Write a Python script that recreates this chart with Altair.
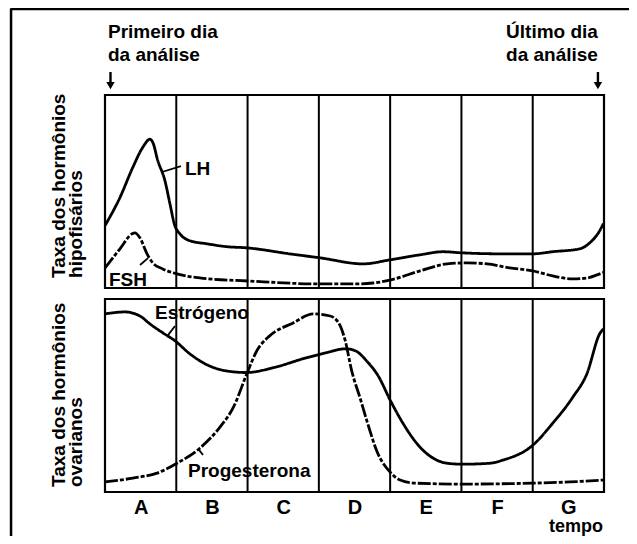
import json
import altair as alt
import pandas as pd

# ---------------- data ----------------
# x: position along the analysis period, in section units (A = 0..1, ..., G = 6..7)
# level: relative hormone level inside its panel (0 = panel bottom, 100 = panel top)
sections = ["A", "B", "C", "D", "E", "F", "G"]

lh_x = [0, 0.21, 0.39, 0.53, 0.63, 0.67, 0.74, 0.84, 0.91, 0.98, 1.05, 1.19, 1.43, 1.71, 1.99,
        2.59, 3.02, 3.62, 4.00, 4.42, 4.74, 5.01, 5.58, 6.00, 6.28, 6.66, 6.80, 6.94, 6.99]
lh_y = [32.3, 46.9, 62.5, 72.9, 77.1, 75.5, 66.1, 55.7, 43.8, 32.3, 28.1, 24.5, 22.9, 21.4, 20.8,
        17.7, 15.6, 12.5, 14.6, 17.2, 18.8, 18.2, 17.7, 17.7, 18.8, 20.3, 23.4, 29.7, 33.3]

fsh_x = [0, 0.21, 0.38, 0.42, 0.49, 0.59, 0.67, 0.81, 1.01, 1.33, 2.03, 3.02, 3.48, 3.76, 4.01,
         4.42, 4.80, 5.08, 5.36, 5.68, 6.00, 6.28, 6.56, 6.76, 6.94, 6.99]
fsh_y = [10.4, 20.3, 28.1, 28.6, 26.0, 17.7, 13.0, 9.9, 7.3, 5.2, 3.6, 2.1, 2.1, 2.6, 4.2,
         8.9, 12.5, 13.0, 12.5, 10.4, 8.9, 6.25, 4.7, 5.2, 7.3, 8.0]

est_x = [0, 0.28, 0.49, 0.63, 0.81, 0.98, 1.19, 1.40, 1.68, 1.99, 2.36, 2.83, 3.11, 3.37, 3.51,
         3.68, 3.83, 4.01, 4.18, 4.42, 4.80, 5.01, 5.40, 5.58, 6.00, 6.28, 6.56, 6.76, 6.94, 6.99]
est_y = [92.3, 93.3, 91.2, 87.1, 82.5, 78.4, 71.6, 66.5, 62.9, 61.9, 64.4, 69.6, 72.2, 74.2, 73.2,
         67.5, 60.3, 46.9, 35.6, 23.2, 14.9, 14.4, 14.9, 16.5, 24.2, 35.6, 49.0, 61.3, 82.0, 84.5]

prog_x = [0, 0.39, 0.73, 1.01, 1.33, 1.61, 1.80, 1.99, 2.13, 2.31, 2.64, 2.92, 3.16, 3.30, 3.37,
          3.46, 3.58, 3.68, 3.82, 4.00, 4.14, 4.35, 5.01, 6.00, 6.52, 6.99]
prog_y = [5.2, 7.2, 9.8, 14.9, 22.7, 33.5, 43.8, 61.3, 73.2, 80.9, 87.6, 92.3, 91.2, 86.1, 78.4,
          62.9, 48.5, 36.1, 20.6, 10.3, 6.2, 4.6, 4.1, 4.6, 5.2, 6.2]

hormones = ["LH", "FSH", "Estrógeno", "Progesterona"]

# ---------------- layout ----------------
W, H = 499, 397
GAP = 5.7                 # gap between the two panels (in level units)
TOP = 100 + GAP           # offset of the upper (pituitary) panel
YMAX = TOP + 100
NSEC = len(sections)
FONT = "Liberation Sans"

curves = pd.concat([
    pd.DataFrame({"hormone": "LH", "x": lh_x, "level": lh_y, "offset": TOP}),
    pd.DataFrame({"hormone": "FSH", "x": fsh_x, "level": fsh_y, "offset": TOP}),
    pd.DataFrame({"hormone": "Estrógeno", "x": est_x, "level": est_y, "offset": 0}),
    pd.DataFrame({"hormone": "Progesterona", "x": prog_x, "level": prog_y, "offset": 0}),
], ignore_index=True)

xs = alt.Scale(domain=[0, NSEC], nice=False, zero=False)
ys = alt.Scale(domain=[0, YMAX], nice=False, zero=False)

label_expr = json.dumps(sections) + "[floor(datum.value)]"
x_axis = alt.Axis(values=[i + 0.5 for i in range(NSEC)], labelExpr=label_expr,
                  domain=False, ticks=False, grid=False, title=None,
                  labelFont=FONT, labelFontSize=20, labelFontWeight="bold",
                  labelColor="black", labelPadding=5, labelAngle=0)


def X(field):
    return alt.X(field, type="quantitative", scale=xs, axis=x_axis)


def Y(field):
    return alt.Y(field, type="quantitative", scale=ys, axis=None)


# outer frame of the figure (decoration): left and top edges, extending past the canvas
frame = pd.DataFrame({"x": [-1.318, -1.33], "x2": [-1.318, 7.6],
                      "y": [250.3, 250.3], "y2": [-30, 250.3]})
frame_rules = alt.Chart(frame).mark_rule(color="black", strokeWidth=2.5).encode(
    x=X("x"), x2="x2", y=Y("y"), y2="y2")

panels = pd.DataFrame({"left": [0, 0], "right": [NSEC, NSEC],
                       "lo": [0, TOP], "hi": [100, TOP + 100]})
panel_box = alt.Chart(panels).mark_rect(
    fill="transparent", stroke="black", strokeWidth=2.2
).encode(x=X("left"), x2="right", y=Y("lo"), y2="hi")

dividers = pd.DataFrame([{"x": b, "lo": lo, "hi": hi}
                         for b in range(1, NSEC)
                         for lo, hi in [(0, 100), (TOP, TOP + 100)]])
div_rules = alt.Chart(dividers).mark_rule(color="black", strokeWidth=2).encode(
    x=X("x"), y=Y("lo"), y2="hi")

lines = alt.Chart(curves).transform_calculate(
    yc="datum.level + datum.offset"
).mark_line(interpolate="monotone", color="black", strokeWidth=2.8).encode(
    x=X("x"), y=Y("yc"),
    strokeDash=alt.StrokeDash("hormone:N", legend=None,
                              scale=alt.Scale(domain=hormones,
                                              range=[[1, 0], [13, 2, 4, 2], [1, 0], [13, 2, 4, 2]])),
)

# annotation texts
left_labels = pd.DataFrame({
    "text": ["Primeiro dia", "da análise", "LH", "FSH", "Estrógeno", "Progesterona"],
    "x": [0.042, 0.042, 1.122, 0.056, 0.701, 1.164],
    "y": [235.2, 223.3, 164.2, 106.7, 89.6, 7.8],
})
right_labels = pd.DataFrame({
    "text": ["Último dia", "da análise"],
    "x": [6.915, 6.915],
    "y": [235.2, 223.3],
})
tempo_label = pd.DataFrame({"text": ["tempo"], "x": [6.986], "y": [-20.8]})
axis_titles = pd.DataFrame({
    "text": ["Taxa dos hormônios", "hipofisários", "Taxa dos hormônios", "ovarianos"],
    "x": [-0.561, -0.323, -0.561, -0.323],
    "y": [110.9, 110.9, 2.6, 2.6],
})

txt_left = alt.Chart(left_labels).mark_text(
    align="left", baseline="alphabetic", font=FONT, fontSize=19, fontWeight="bold", color="black"
).encode(x=X("x"), y=Y("y"), text="text:N")
txt_right = alt.Chart(right_labels).mark_text(
    align="right", baseline="alphabetic", font=FONT, fontSize=19, fontWeight="bold", color="black"
).encode(x=X("x"), y=Y("y"), text="text:N")
txt_tempo = alt.Chart(tempo_label).mark_text(
    align="right", baseline="alphabetic", font=FONT, fontSize=18, fontWeight="bold", color="black"
).encode(x=X("x"), y=Y("y"), text="text:N")
txt_rot = alt.Chart(axis_titles).mark_text(
    align="left", baseline="alphabetic", angle=270, font=FONT, fontSize=19,
    fontWeight="bold", color="black"
).encode(x=X("x"), y=Y("y"), text="text:N")

# leader lines from labels to curves
leaders = pd.DataFrame({
    "x": [0.80, 0.491, 0.884, 1.319],
    "y": [165.8, 117.6, 81.3, 21.8],
    "x2": [1.066, 0.603, 0.982, 1.375],
    "y2": [168.9, 121.2, 86.0, 19.2],
})
leader_rules = alt.Chart(leaders).mark_rule(color="black", strokeWidth=1.8).encode(
    x=X("x"), x2="x2", y=Y("y"), y2="y2")

# arrows marking first and last day
arrows = pd.DataFrame({"x": [0.077, 6.915], "top": [217.6, 217.6], "tip": [210.5, 210.5]})
arrow_stem = alt.Chart(arrows).mark_rule(color="black", strokeWidth=2.4).encode(
    x=X("x"), y=Y("top"), y2="tip")
arrow_head = alt.Chart(arrows).mark_point(
    shape="triangle-down", filled=True, color="black", size=70, opacity=1
).encode(x=X("x"), y=alt.Y("tip", type="quantitative", scale=ys, axis=None))

chart = alt.layer(
    frame_rules, panel_box, div_rules, lines, leader_rules, arrow_stem, arrow_head,
    txt_left, txt_right, txt_tempo, txt_rot
).properties(
    width=W, height=H,
    padding={"left": 97, "top": 87, "right": 25, "bottom": 44},
    autosize=alt.AutoSizeParams(type="none"),
    background="white",
).configure_view(stroke=None)

chart.save("out.html", embed_options={"renderer": "svg", "actions": False})
